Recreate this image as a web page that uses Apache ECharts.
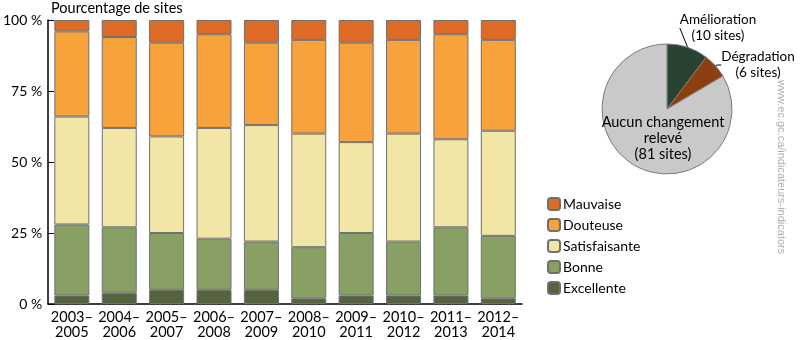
<!DOCTYPE html>
<html><head><meta charset="utf-8">
<script src="https://cdn.jsdelivr.net/npm/echarts@6/dist/echarts.min.js"></script>
<style>html,body{margin:0;padding:0;background:#fff}#c{width:800px;height:340px}</style>
</head><body><div id="c"></div>
<script>
const categories = ['2003–\n2005','2004–\n2006','2005–\n2007','2006–\n2008','2007–\n2009','2008–\n2010','2009–\n2011','2010–\n2012','2011–\n2013','2012–\n2014'];
const excellente    = [3, 4, 5, 5, 5, 2, 3, 3, 3, 2];
const bonne         = [25, 23, 20, 18, 17, 18, 22, 19, 24, 22];
const satisfaisante = [38, 35, 34, 39, 41, 40, 32, 38, 31, 37];
const douteuse      = [30, 32, 33, 33, 29, 33, 35, 33, 37, 32];
const mauvaise      = [4, 6, 8, 5, 8, 7, 8, 7, 5, 7];
const yTicks = [0, 25, 50, 75, 100];
const pieNames = ['Amélioration', 'Dégradation', 'Aucun changement relevé'];
const pieLabels = ['Amélioration\n(10 sites)', 'Dégradation\n(6 sites)', 'Aucun changement\nrelevé\n(81 sites)'];
const pieValues = [10, 6, 81];

const FONT = 'Lato';
const border = {borderColor: '#707070', borderWidth: 1};
function bar(name, data, color) {
  return {name, type: 'bar', stack: 'a', data, barWidth: 35,
    itemStyle: Object.assign({color}, border), emphasis: {disabled: true}};
}
const chart = echarts.init(document.getElementById('c'));
chart.setOption({
  animation: false,
  textStyle: {fontFamily: FONT},
  grid: {left: 40, right: 278, top: 20, bottom: 34},
  title: {text: 'Pourcentage de sites', left: 51, top: 1, padding: 0,
    textStyle: {fontFamily: FONT, fontSize: 14.5, fontWeight: 'normal', color: '#000'}},
  legend: {orient: 'vertical', left: 542, top: 192, itemWidth: 12, itemHeight: 12, itemGap: 7,
    data: ['Mauvaise', 'Douteuse', 'Satisfaisante', 'Bonne', 'Excellente'],
    textStyle: {fontFamily: FONT, fontSize: 14, color: '#000', padding: [0, 0, 0, -2]}},
  xAxis: {type: 'category', data: categories,
    axisLine: {lineStyle: {color: '#000', width: 1.5}},
    axisTick: {inside: true, length: 6, lineStyle: {color: '#000'}},
    axisLabel: {interval: 0, color: '#000', fontSize: 14.5, lineHeight: 15, margin: 6, fontFamily: FONT}},
  yAxis: {type: 'value', min: yTicks[0], max: yTicks[yTicks.length - 1], interval: 25,
    splitLine: {show: false},
    axisLine: {show: true, lineStyle: {color: '#000', width: 1.5}},
    axisTick: {show: true, inside: true, length: 6, lineStyle: {color: '#000'}},
    axisLabel: {color: '#000', fontSize: 14, margin: 6, formatter: '{value} %', fontFamily: FONT}},
  series: [
    bar('Excellente', excellente, '#566240'),
    bar('Bonne', bonne, '#89a064'),
    bar('Satisfaisante', satisfaisante, '#f1e6a6'),
    bar('Douteuse', douteuse, '#f7a23b'),
    bar('Mauvaise', mauvaise, '#dd6b26'),
    {type: 'pie', center: [667, 109], radius: 65, startAngle: 90, clockwise: true,
      emphasis: {disabled: true},
      itemStyle: {borderColor: '#7a7a7a', borderWidth: 1},
      label: {fontFamily: FONT, fontSize: 13.5, color: '#000', lineHeight: 16, overflow: 'none',
        formatter: p => pieLabels[p.dataIndex]},
      labelLine: {show: true, length: 4, length2: 4, lineStyle: {color: '#000', width: 1}},
      labelLayout: p => {
        if (p.dataIndex === 0) return {x: 718, y: 28, align: 'center', verticalAlign: 'middle'};
        if (p.dataIndex === 1) return {x: 758, y: 65, align: 'center', verticalAlign: 'middle'};
        return {x: 663, y: 138, align: 'center', verticalAlign: 'middle'};
      },
      data: [
        {name: pieNames[0], value: pieValues[0], itemStyle: {color: '#2a4231'}},
        {name: pieNames[1], value: pieValues[1], itemStyle: {color: '#8e3f0f'}},
        {name: pieNames[2], value: pieValues[2], itemStyle: {color: '#c9c9c9'}, labelLine: {show: false}, label: {fontSize: 14.5}}
      ]}
  ],
  graphic: [{type: 'text', x: 787, y: 80, rotation: -Math.PI / 2,
    style: {text: 'www.ec.gc.ca/indicateurs-indicators', fill: '#b0b0b0', font: '11px "Liberation Sans"'}}]
});
</script></body></html>
